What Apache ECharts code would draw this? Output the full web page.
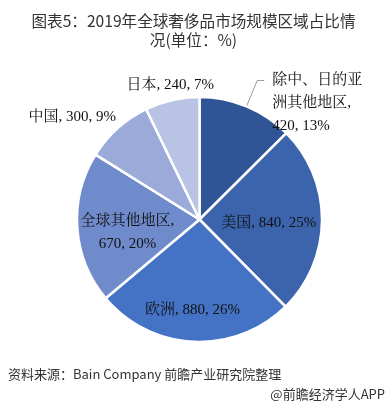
<!DOCTYPE html>
<html><head><meta charset="utf-8">
<script src="https://cdn.jsdelivr.net/npm/echarts@6/dist/echarts.min.js"></script>
<style>html,body{margin:0;padding:0;background:#fff}#c{width:387px;height:409px}</style>
</head><body><div id="c"></div>
<script>
const categories = ['除中、日的亚洲其他地区', '美国', '欧洲', '全球其他地区', '中国', '日本'];
const values = [420, 840, 880, 670, 300, 240];
const titleText = '图表5：2019年全球奢侈品市场规模区域占比情\n况(单位：%)';
const sourceText = '资料来源：Bain Company 前瞻产业研究院整理';
const creditText = '@前瞻经济学人APP';

const colors = ['#2F5597', '#3B64AD', '#4472C4', '#6F8BCC', '#9BAAD9', '#B9C3E3'];
const positions = ['outside', 'inside', 'inside', 'inside', 'outside', 'outside'];
const nudges = [[3, 23], [5, 3], [-4, 26], [-8, 9], [29, 10], [60, 12]];
const labelFont = '"Liberation Serif", "Noto Serif CJK SC", "Noto Sans CJK SC", serif';

const chart = echarts.init(document.getElementById('c'));
chart.setOption({
  animation: false,
  title: {
    text: titleText, left: 'center', top: 7,
    textStyle: {fontSize: 15.6, lineHeight: 19, fontWeight: 'normal', color: '#333', fontFamily: '"Noto Sans CJK SC", sans-serif'}
  },
  graphic: [
    {type: 'text', left: 8, top: 368, style: {text: sourceText, fontSize: 13, fill: '#333', fontFamily: '"Noto Sans CJK SC", sans-serif'}},
    {type: 'text', right: 2, top: 388, style: {text: creditText, fontSize: 13, fill: '#333', fontFamily: '"Noto Sans CJK SC", sans-serif'}}
  ],
  series: [{
    type: 'pie',
    center: [199.5, 219.5],
    radius: [0, 122.5],
    startAngle: 90,
    clockwise: true,
    percentPrecision: 0,
    avoidLabelOverlap: false,
    itemStyle: {borderColor: '#fff', borderWidth: 2.5},
    label: {
      fontSize: 15, lineHeight: 23, color: '#111', fontFamily: labelFont,
      formatter: p => {
        let n = p.name;
        if (n.length > 8) n = n.slice(0, 6) + '\n' + n.slice(6);
        const sep = (p.name.length > 5) ? ',\n' : ', ';
        return n + sep + p.value + ', ' + p.percent + '%';
      }
    },
    labelLine: {show: true, length: 28, length2: 7, lineStyle: {color: '#9a9a9a', width: 1}},
    labelLayout: p => ({dx: nudges[p.dataIndex][0], dy: nudges[p.dataIndex][1]}),
    data: categories.map((c, i) => ({
      name: c, value: values[i],
      itemStyle: {color: colors[i]},
      label: {position: positions[i], align: 'center'},
      labelLine: {show: i === 0}
    }))
  }]
});
</script></body></html>
